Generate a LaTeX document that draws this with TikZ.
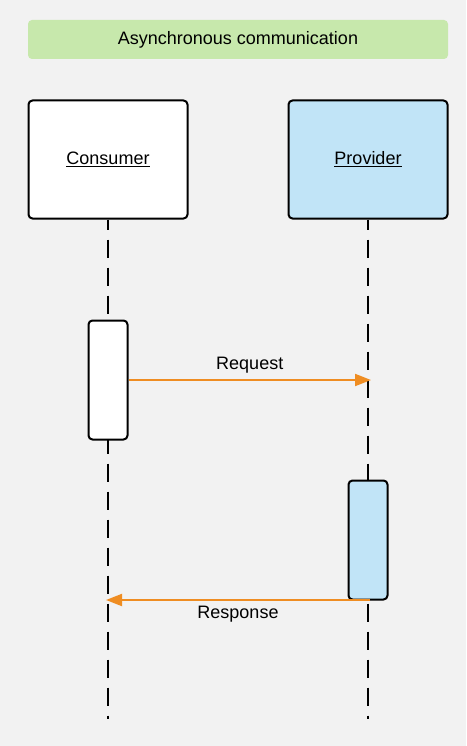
\documentclass[tikz,border=0pt]{standalone}
\usepackage{fontspec}
\setmainfont{Liberation Sans}
\usetikzlibrary{arrows.meta}
\definecolor{bgGray}{HTML}{F2F2F2}
\definecolor{titleGreen}{HTML}{C7E8AC}
\definecolor{provBlue}{HTML}{C1E4F7}
\definecolor{msgOrange}{HTML}{EF8D22}
\tikzstyle{txt}=[font=\fontsize{18}{21}\selectfont]
\tikzstyle{titlebox}=[txt, fill=titleGreen, rounded corners=4pt, minimum width=420pt, minimum height=39pt]
\tikzstyle{actor}=[txt, draw=black, line width=2pt, rounded corners=4pt, minimum width=159pt, minimum height=118pt]
\tikzstyle{activation}=[draw=black, line width=2pt, rounded corners=4pt, minimum width=39pt, minimum height=119pt, inner sep=0pt]
\tikzstyle{lifeline}=[line width=2.4pt, dash pattern=on 18pt off 10pt, dash phase=8pt]
\tikzstyle{message}=[txt, draw=msgOrange, line width=2pt, -{Triangle[length=16pt, width=12pt]}, color=msgOrange]

\begin{document}
\begin{tikzpicture}[x=1pt, y=-1pt]
% Background
    \fill[bgGray] (0,0) rectangle (466,746);
    \useasboundingbox (0,0) rectangle (466,746);
% Title
    \node[titlebox] (title) at (238,39.5) {Asynchronous communication};
% Participants
    \node[actor, fill=white] (consumer) at (108,159.5) {\underline{Consumer}};
    \node[actor, fill=provBlue] (provider) at (368,159.5) {\underline{Provider}};
% Lifelines
    \coordinate (consEnd) at (108,719);
    \coordinate (provEnd) at (368,719);
    \draw[lifeline] (consumer.south) -- (consEnd);
    \draw[lifeline] (provider.south) -- (provEnd);
% Activations
    \node[activation, fill=white] (consAct) at (108,380) {};
    \node[activation, fill=provBlue] (provAct) at (368,540) {};
% Messages
    \coordinate (reqEnd) at (371,380);
    \coordinate (respStart) at (370,600);
    \coordinate (respEnd) at (106,600);
    \draw[message] (consAct.east) -- (reqEnd)
        node[midway, above, text=black, inner sep=6pt] {Request};
    \draw[message] (respStart) -- (respEnd)
        node[midway, below, text=black, inner sep=5.5pt] {Response};
\end{tikzpicture}
\end{document}
